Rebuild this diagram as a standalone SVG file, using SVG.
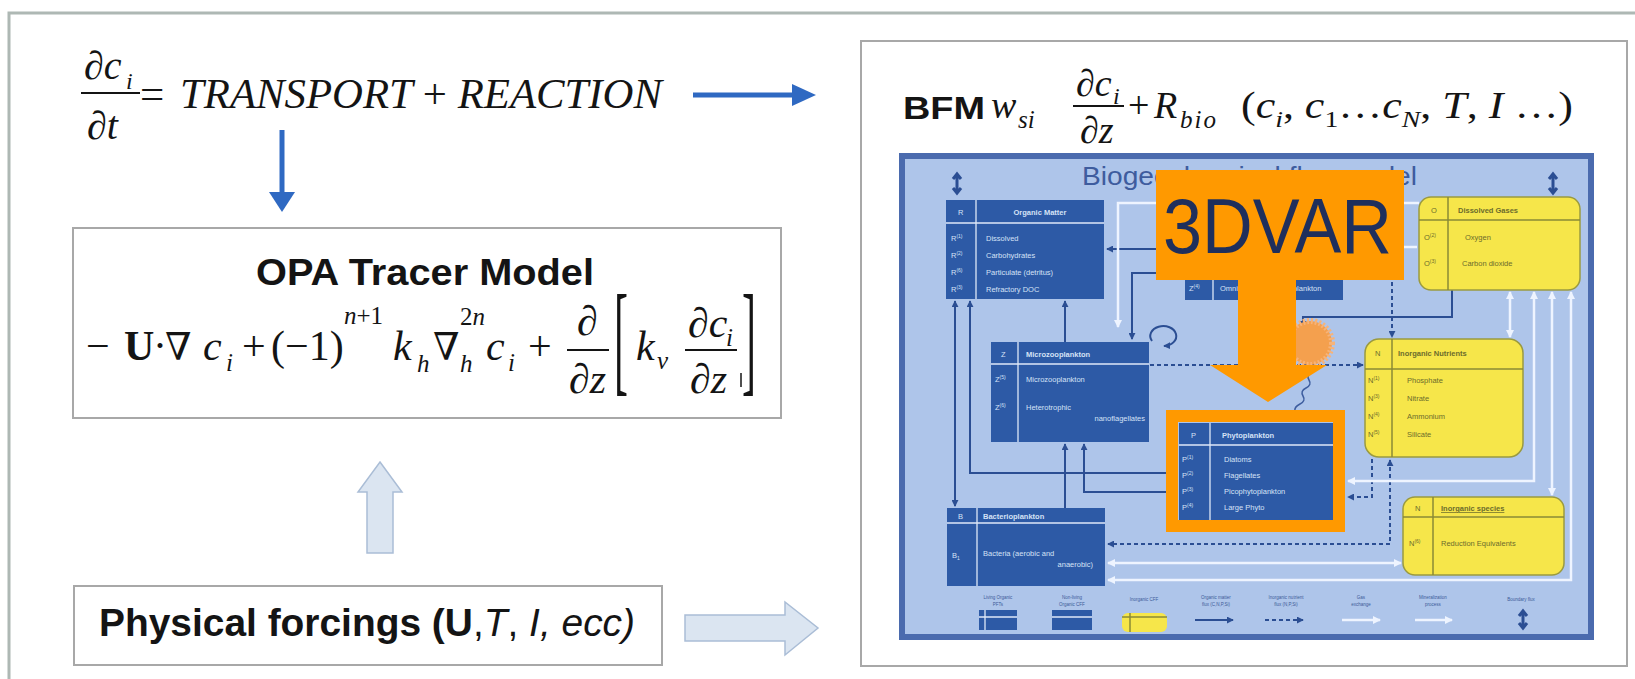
<svg xmlns="http://www.w3.org/2000/svg" width="1635" height="679" viewBox="0 0 1635 679">
<defs>
<style>
.m{font-family:"Liberation Serif","DejaVu Serif",serif;fill:#141414}
.i{font-style:italic}
.n{font-style:normal}
.sb{font-family:"Liberation Sans",Arial,sans-serif;font-weight:bold;fill:#141414}
.box{fill:#fff;stroke:#a8a8a8;stroke-width:2}
.db{fill:#2d5aa6}
.yb{fill:#f6e64a;stroke:#9a9a40;stroke-width:1.5}
.wl{stroke:#dfe9f8;stroke-width:1.3}
.ol{stroke:#8a8a36;stroke-width:1.5}
.wt{font-family:"Liberation Sans",Arial,sans-serif;font-size:7.5px;fill:#d5e2f6}
.yt{font-family:"Liberation Sans",Arial,sans-serif;font-size:7.5px;fill:#6c6c2c}
.dk{fill:none;stroke:#2b4e93;stroke-width:2}
.ds{fill:none;stroke:#2b4e93;stroke-width:2;stroke-dasharray:4 3}
.wh{fill:none;stroke:#eef4ff;stroke-width:2.5}
.lg{font-family:"Liberation Sans",Arial,sans-serif;font-size:4.5px;fill:#3c5a98;text-anchor:middle}
.hol{fill:#dbe5f1;stroke:#aabdd6;stroke-width:1.5}
.blue{fill:#2f69c2}
</style>
<marker id="ad" viewBox="0 0 8 8" refX="7" refY="4" markerWidth="7" markerHeight="7" markerUnits="userSpaceOnUse" orient="auto-start-reverse"><path d="M0,0 L8,4 L0,8 z" fill="#2b4e93"/></marker>
<marker id="aw" viewBox="0 0 8 8" refX="7" refY="4" markerWidth="8" markerHeight="8" markerUnits="userSpaceOnUse" orient="auto-start-reverse"><path d="M0,0 L8,4 L0,8 z" fill="#eef4ff"/></marker>
</defs>

<rect x="0" y="0" width="1635" height="679" fill="#ffffff"/>
<rect x="9" y="13" width="1670" height="700" fill="#ffffff" stroke="#aeb8b4" stroke-width="3"/>

<!-- top equation -->
<g id="eq-main">
<text class="m i" x="84" y="79" font-size="40">∂c</text>
<text class="m i" x="126" y="89" font-size="24">i</text>
<line x1="81" y1="93" x2="140" y2="93" stroke="#141414" stroke-width="2"/>
<text class="m i" x="87" y="139" font-size="40">∂t</text>
<text class="m" x="140" y="108" font-size="43">=</text>
<text class="m i" x="180" y="108" font-size="43" textLength="482" lengthAdjust="spacingAndGlyphs">TRANSPORT <tspan class="n">+</tspan> REACTION</text>
</g>

<!-- OPA box -->
<g id="opa">
<rect class="box" x="73" y="228" width="708" height="190"/>
<text class="sb" x="425" y="285" font-size="37" text-anchor="middle" textLength="338" lengthAdjust="spacingAndGlyphs">OPA Tracer Model</text>
<g class="m" font-size="42">
<text x="86" y="360">−</text>
<text x="124" y="360" font-weight="bold">U</text>
<text x="153" y="360">·</text>
<text x="165" y="360" font-size="38">∇</text>
<text class="i" x="203" y="360">c</text>
<text class="i" x="226" y="371" font-size="25">i</text>
<text x="242" y="360">+</text>
<text x="271" y="360">(−1)</text>
<text x="344" y="324" font-size="25"><tspan class="i">n</tspan>+1</text>
<text class="i" x="393" y="360">k</text>
<text class="i" x="417" y="372" font-size="25">h</text>
<text x="433" y="360" font-size="38">∇</text>
<text x="460" y="325" font-size="25">2<tspan class="i">n</tspan></text>
<text class="i" x="460" y="372" font-size="25">h</text>
<text class="i" x="486" y="360">c</text>
<text class="i" x="508" y="371" font-size="25">i</text>
<text x="528" y="360">+</text>
<text class="i" x="577" y="335">∂</text>
<text class="i" x="569" y="393">∂z</text>
<text transform="translate(614,380) scale(1,2.9)">[</text>
<text class="i" x="636" y="360">k</text>
<text class="i" x="657" y="369" font-size="25">v</text>
<text class="i" x="688" y="337">∂c</text>
<text class="i" x="726" y="346" font-size="25">i</text>
<text class="i" x="690" y="393">∂z</text>
<text transform="translate(742,380) scale(1,2.9)">]</text>
</g>
<line x1="567" y1="350" x2="609" y2="350" stroke="#141414" stroke-width="2"/>
<line x1="685" y1="350" x2="737" y2="350" stroke="#141414" stroke-width="2"/>
<line x1="741" y1="373" x2="741" y2="387" stroke="#141414" stroke-width="1.5"/>
</g>

<!-- Physical forcings -->
<g id="forcings">
<rect class="box" x="74" y="586" width="588" height="79"/>
<text class="m" x="99" y="636" font-size="38" textLength="536" lengthAdjust="spacingAndGlyphs" style="font-family:'Liberation Sans',Arial,sans-serif"><tspan font-weight="bold">Physical forcings (U</tspan>,<tspan class="i">T</tspan>, <tspan class="i">I</tspan><tspan class="i">, ecc)</tspan></text>
</g>

<!-- BFM box -->
<g id="bfm">
<rect class="box" x="861" y="41" width="766" height="625"/>
<text class="sb" x="903" y="119" font-size="31" textLength="82" lengthAdjust="spacingAndGlyphs">BFM</text>
<g class="m" font-size="38">
<text class="i" x="991" y="118">w</text>
<text class="i" x="1018" y="128" font-size="25">si</text>
<text class="i" x="1076" y="96">∂c</text>
<text class="i" x="1113" y="104" font-size="24">i</text>
<text class="i" x="1080" y="143">∂z</text>
<text x="1128" y="118">+</text>
<text class="i" x="1154" y="118">R</text>
<text class="i" x="1180" y="128" font-size="25" letter-spacing="2">bio</text>
<text x="1241" y="118" textLength="332" lengthAdjust="spacingAndGlyphs">(<tspan class="i">c</tspan><tspan class="i" font-size="24" dy="9">i</tspan><tspan dy="-9">, </tspan><tspan class="i">c</tspan><tspan font-size="24" dy="9">1</tspan><tspan dy="-9">…</tspan><tspan class="i">c</tspan><tspan class="i" font-size="24" dy="9">N</tspan><tspan dy="-9">, </tspan><tspan class="i">T</tspan>, <tspan class="i">I</tspan> …)</text>
</g>
<line x1="1073" y1="106" x2="1124" y2="106" stroke="#141414" stroke-width="2"/>

<!-- embedded biogeochemical flux model -->
<rect x="902" y="156" width="689" height="481" fill="#aec5ea" stroke="#4b6bae" stroke-width="6"/>
<text x="1082" y="185" font-family="Liberation Sans, Arial, sans-serif" font-size="25" fill="#3e5c9e" textLength="335" lengthAdjust="spacingAndGlyphs">Biogeochemical flux model</text>
<g id="corner-icons" fill="none" stroke="#2b4e93" stroke-width="3">
<path d="M957,176 V191 M953,179 L957,174 L961,179 M953,188 L957,193 L961,188"/>
<path d="M1553,176 V191 M1549,179 L1553,174 L1557,179 M1549,188 L1553,193 L1557,188"/>
</g>

<g id="connectors">
<path class="dk" d="M1157,249 H1107" marker-end="url(#ad)"/>
<path class="dk" d="M1185,273 H1132 V339" marker-end="url(#ad)"/>
<path class="dk" d="M1152,341 A13,10 0 1,1 1164,346" marker-end="url(#ad)"/>
<path class="dk" d="M955,506 V301" marker-start="url(#ad)" marker-end="url(#ad)"/>
<path class="dk" d="M1166,473 H970 V301" marker-end="url(#ad)"/>
<path class="dk" d="M1065,342 V301" marker-end="url(#ad)"/>
<path class="dk" d="M1065,508 V444" marker-end="url(#ad)"/>
<path class="dk" d="M1166,492 H1084 V444" marker-end="url(#ad)"/>
<path class="dk" d="M1452,290 V317 H1303 V327" marker-end="url(#ad)"/>
<path class="ds" d="M1392,282 V337" marker-end="url(#ad)"/>
<path class="ds" d="M1150,365 H1363" marker-end="url(#ad)"/>
<path class="ds" d="M1372,459 V497 H1348" marker-end="url(#ad)"/>
<path class="ds" d="M1390,460 V544 H1108" marker-start="url(#ad)" marker-end="url(#ad)"/>
<path class="wh" d="M1419,203 H1118 V327" marker-end="url(#aw)"/>
<path class="wh" d="M1402,247 H1417"/>
<path class="wh" d="M1510,292 V337" marker-start="url(#aw)" marker-end="url(#aw)"/>
<path class="wh" d="M1534,292 V481 H1348" marker-start="url(#aw)" marker-end="url(#aw)"/>
<path class="wh" d="M1552,292 V495" marker-start="url(#aw)" marker-end="url(#aw)"/>
<path class="wh" d="M1571,292 V580 H1108" marker-start="url(#aw)" marker-end="url(#aw)"/>
<path class="wh" d="M1108,563 H1401" marker-start="url(#aw)" marker-end="url(#aw)"/>
</g>

<g id="organic-matter">
<rect class="db" x="946" y="200" width="158" height="99"/>
<line class="wl" x1="946" y1="223" x2="1104" y2="223"/>
<line class="wl" x1="976" y1="200" x2="976" y2="299"/>
<text class="wt" x="958" y="215">R</text>
<text class="wt" x="1040" y="215" text-anchor="middle" font-weight="bold">Organic Matter</text>
<text class="wt" x="951" y="241">R<tspan font-size="5" dy="-3">(1)</tspan></text>
<text class="wt" x="951" y="258">R<tspan font-size="5" dy="-3">(2)</tspan></text>
<text class="wt" x="951" y="275">R<tspan font-size="5" dy="-3">(6)</tspan></text>
<text class="wt" x="951" y="292">R<tspan font-size="5" dy="-3">(3)</tspan></text>
<text class="wt" x="986" y="241">Dissolved</text>
<text class="wt" x="986" y="258">Carbohydrates</text>
<text class="wt" x="986" y="275">Particulate (detritus)</text>
<text class="wt" x="986" y="292">Refractory DOC</text>
</g>

<g id="mesozooplankton">
<rect class="db" x="1185" y="214" width="158" height="86"/>
<line class="wl" x1="1213" y1="214" x2="1213" y2="300"/>
<text class="wt" x="1189" y="291">Z<tspan font-size="5" dy="-3">(4)</tspan></text>
<text class="wt" x="1220" y="291">Omnivorous mesozooplankton</text>
</g>

<g id="microzooplankton">
<rect class="db" x="991" y="342" width="158" height="100"/>
<line class="wl" x1="991" y1="364" x2="1149" y2="364"/>
<line class="wl" x1="1018" y1="342" x2="1018" y2="442"/>
<text class="wt" x="1001" y="357">Z</text>
<text class="wt" x="1026" y="357" font-weight="bold">Microzooplankton</text>
<text class="wt" x="995" y="382">Z<tspan font-size="5" dy="-3">(5)</tspan></text>
<text class="wt" x="1026" y="382">Microzooplankton</text>
<text class="wt" x="995" y="410">Z<tspan font-size="5" dy="-3">(6)</tspan></text>
<text class="wt" x="1026" y="410">Heterotrophic</text>
<text class="wt" x="1145" y="421" text-anchor="end">nanoflagellates</text>
</g>

<g id="phytoplankton">
<rect class="db" x="1179" y="423" width="154" height="97"/>
<line class="wl" x1="1179" y1="445" x2="1333" y2="445"/>
<line class="wl" x1="1210" y1="423" x2="1210" y2="520"/>
<text class="wt" x="1191" y="438">P</text>
<text class="wt" x="1222" y="438" font-weight="bold">Phytoplankton</text>
<text class="wt" x="1182" y="462">P<tspan font-size="5" dy="-3">(1)</tspan></text>
<text class="wt" x="1182" y="478">P<tspan font-size="5" dy="-3">(2)</tspan></text>
<text class="wt" x="1182" y="494">P<tspan font-size="5" dy="-3">(3)</tspan></text>
<text class="wt" x="1182" y="510">P<tspan font-size="5" dy="-3">(4)</tspan></text>
<text class="wt" x="1224" y="462">Diatoms</text>
<text class="wt" x="1224" y="478">Flagellates</text>
<text class="wt" x="1224" y="494">Picophytoplankton</text>
<text class="wt" x="1224" y="510">Large Phyto</text>
</g>

<g id="bacterioplankton">
<rect class="db" x="947" y="508" width="158" height="78"/>
<line class="wl" x1="947" y1="523" x2="1105" y2="523"/>
<line class="wl" x1="977" y1="508" x2="977" y2="586"/>
<text class="wt" x="958" y="519">B</text>
<text class="wt" x="983" y="519" font-weight="bold">Bacterioplankton</text>
<text class="wt" x="952" y="558">B<tspan font-size="5" dy="2">1</tspan></text>
<text class="wt" x="983" y="556">Bacteria (aerobic and</text>
<text class="wt" x="1093" y="567" text-anchor="end">anaerobic)</text>
</g>

<g id="dissolved-gases">
<rect class="yb" x="1419" y="197" width="161" height="93" rx="12"/>
<line class="ol" x1="1419" y1="220" x2="1580" y2="220"/>
<line class="ol" x1="1448" y1="197" x2="1448" y2="290"/>
<text class="yt" x="1431" y="213">O</text>
<text class="yt" x="1458" y="213" font-weight="bold">Dissolved Gases</text>
<text class="yt" x="1424" y="240">O<tspan font-size="5" dy="-3">(2)</tspan></text>
<text class="yt" x="1424" y="266">O<tspan font-size="5" dy="-3">(3)</tspan></text>
<text class="yt" x="1465" y="240">Oxygen</text>
<text class="yt" x="1462" y="266">Carbon dioxide</text>
</g>

<g id="inorganic-nutrients">
<rect class="yb" x="1365" y="339" width="158" height="118" rx="14"/>
<line class="ol" x1="1365" y1="369" x2="1523" y2="369"/>
<line class="ol" x1="1392" y1="339" x2="1392" y2="457"/>
<text class="yt" x="1375" y="356">N</text>
<text class="yt" x="1398" y="356" font-weight="bold">Inorganic Nutrients</text>
<text class="yt" x="1368" y="383">N<tspan font-size="5" dy="-3">(1)</tspan></text>
<text class="yt" x="1368" y="401">N<tspan font-size="5" dy="-3">(3)</tspan></text>
<text class="yt" x="1368" y="419">N<tspan font-size="5" dy="-3">(4)</tspan></text>
<text class="yt" x="1368" y="437">N<tspan font-size="5" dy="-3">(5)</tspan></text>
<text class="yt" x="1407" y="383">Phosphate</text>
<text class="yt" x="1407" y="401">Nitrate</text>
<text class="yt" x="1407" y="419">Ammonium</text>
<text class="yt" x="1407" y="437">Silicate</text>
</g>

<g id="inorganic-species">
<rect class="yb" x="1403" y="497" width="161" height="78" rx="12"/>
<line class="ol" x1="1403" y1="517" x2="1564" y2="517"/>
<line class="ol" x1="1433" y1="497" x2="1433" y2="575"/>
<text class="yt" x="1415" y="511">N</text>
<text class="yt" x="1441" y="511" font-weight="bold" text-decoration="underline">Inorganic species</text>
<text class="yt" x="1409" y="546">N<tspan font-size="5" dy="-3">(6)</tspan></text>
<text class="yt" x="1441" y="546">Reduction Equivalents</text>
</g>

<g id="sun">
<circle cx="1310" cy="343" r="22" fill="#f4a04e" stroke="#f6b37a" stroke-width="6" stroke-dasharray="2 2"/>
<path d="M1312,372 q-6,3 -3,8 q3,5 -3,8 q-6,3 -3,8 q3,5 -3,8 q-6,3 -5,7" fill="none" stroke="#3d5d9f" stroke-width="1.5"/>
</g>

<g id="legend">
<rect class="db" x="979" y="610" width="38" height="20"/>
<line class="wl" x1="985" y1="610" x2="985" y2="630"/>
<line class="wl" x1="979" y1="617" x2="1017" y2="617"/>
<text class="lg" x="998" y="599">Living Organic</text>
<text class="lg" x="998" y="606">PFTs</text>
<rect class="db" x="1052" y="610" width="40" height="20"/>
<line class="wl" x1="1052" y1="617" x2="1092" y2="617"/>
<text class="lg" x="1072" y="599">Non-living</text>
<text class="lg" x="1072" y="606">Organic CFF</text>
<rect x="1122" y="613" width="45" height="19" rx="6" fill="#f6e64a"/>
<line class="ol" x1="1130" y1="613" x2="1130" y2="632"/>
<line class="ol" x1="1122" y1="617" x2="1167" y2="617"/>
<text class="lg" x="1144" y="601">Inorganic CFF</text>
<path class="dk" d="M1195,620 H1233" marker-end="url(#ad)"/>
<text class="lg" x="1216" y="599">Organic matter</text>
<text class="lg" x="1216" y="606">flux (C,N,P,Si)</text>
<path class="ds" d="M1265,620 H1303" marker-end="url(#ad)"/>
<text class="lg" x="1286" y="599">Inorganic nutrient</text>
<text class="lg" x="1286" y="606">flux (N,P,Si)</text>
<path class="wh" d="M1342,620 H1380" marker-end="url(#aw)"/>
<text class="lg" x="1361" y="599">Gas</text>
<text class="lg" x="1361" y="606">exchange</text>
<path class="wh" d="M1415,620 H1452" marker-end="url(#aw)"/>
<text class="lg" x="1433" y="599">Mineralization</text>
<text class="lg" x="1433" y="606">process</text>
<path d="M1523,613 V626 M1519,616 L1523,611 L1527,616 M1519,623 L1523,628 L1527,623" fill="none" stroke="#2b4e93" stroke-width="3"/>
<text class="lg" x="1521" y="601">Boundary flux</text>
</g>
</g>

<!-- 3DVAR overlay -->
<g id="3dvar">
<rect x="1156" y="170" width="248" height="110" fill="#ff9900"/>
<polygon points="1238,279 1296,279 1296,365 1327,365 1268,402 1210,365 1238,365" fill="#ff9900"/>
<rect x="1172" y="416" width="167" height="110" fill="none" stroke="#ff9900" stroke-width="12"/>
<text x="1163" y="253" font-family="Liberation Sans, Arial, sans-serif" font-size="78" fill="#1f2f5c" textLength="229" lengthAdjust="spacingAndGlyphs">3DVAR</text>
</g>

<!-- main connectors -->
<g id="main-connectors">
<line x1="693" y1="95" x2="796" y2="95" stroke="#2f69c2" stroke-width="5"/>
<polygon class="blue" points="792,84 816,95 792,106"/>
<line x1="282" y1="130" x2="282" y2="194" stroke="#2f69c2" stroke-width="5"/>
<polygon class="blue" points="269,192 295,192 282,212"/>
<polygon class="hol" points="380,462 402,492 393,492 393,553 367,553 367,492 358,492"/>
<polygon class="hol" points="685,615 785,615 785,602 818,628 785,655 785,641 685,641"/>
</g>
</svg>
